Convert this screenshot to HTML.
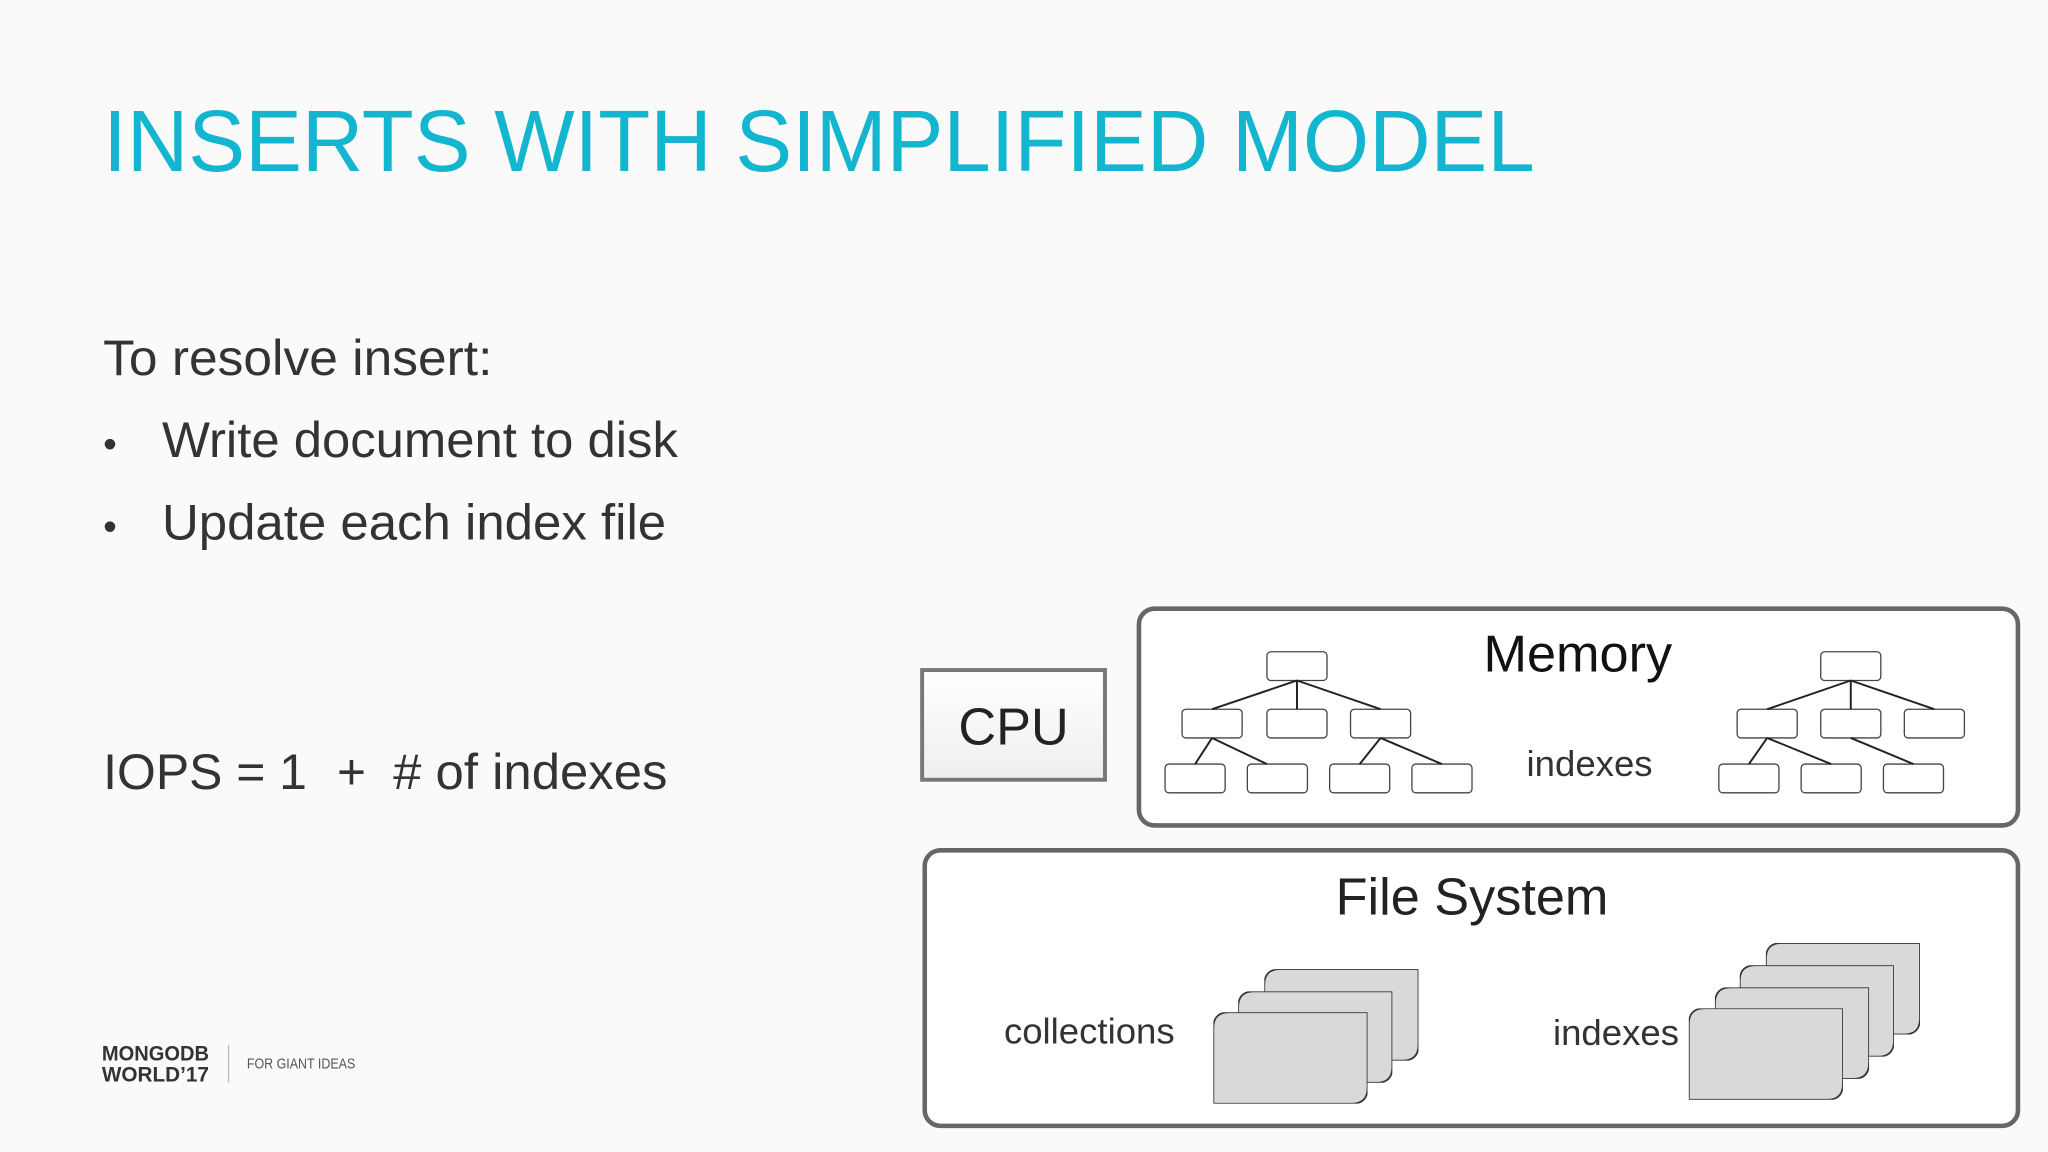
<!DOCTYPE html>
<html><head><meta charset="utf-8"><style>
html,body{margin:0;padding:0;background:#fafafa;}
svg{display:block;}
text{font-family:"Liberation Sans",Arial,sans-serif;}
</style></head><body>
<svg width="2048" height="1152" viewBox="0 0 1568 882" xmlns="http://www.w3.org/2000/svg">
<defs>
<linearGradient id="cpu" x1="0" y1="0" x2="0" y2="1"><stop offset="0" stop-color="#fff"/><stop offset="1" stop-color="#eee"/></linearGradient>
<symbol id="page" viewBox="0 0 118 70"><path d="M12,0 H118 V58 Q118,70 106,70 H0 V12 Q0,0 12,0 Z" fill="#d9d9dc" stroke="#333" stroke-width="1.3"/></symbol>
</defs>
<rect width="1568" height="882" fill="#fafafa"/>
<text x="79" y="131" font-size="67" fill="#13b5cf" textLength="1096" lengthAdjust="spacingAndGlyphs">INSERTS WITH SIMPLIFIED MODEL</text>
<g fill="#333" font-size="38">
<text x="79" y="287" textLength="298" lengthAdjust="spacingAndGlyphs">To resolve insert:</text>
<text x="79" y="350" font-size="30">•</text><text x="124" y="350" textLength="395" lengthAdjust="spacingAndGlyphs">Write document to disk</text>
<text x="79" y="413" font-size="30">•</text><text x="124" y="413" textLength="386" lengthAdjust="spacingAndGlyphs">Update each index file</text>
<text x="79" y="604" textLength="156" lengthAdjust="spacingAndGlyphs">IOPS = 1</text>
<text x="258" y="604">+</text>
<text x="301" y="604" textLength="210" lengthAdjust="spacingAndGlyphs"># of indexes</text>
</g>
<!-- footer -->
<text x="78" y="812" font-size="16" font-weight="bold" fill="#333" textLength="82" lengthAdjust="spacingAndGlyphs">MONGODB</text>
<text x="78" y="828" font-size="16" font-weight="bold" fill="#333" textLength="82" lengthAdjust="spacingAndGlyphs">WORLD’17</text>
<line x1="175" y1="800" x2="175" y2="829" stroke="#bbb" stroke-width="1"/>
<text x="189" y="818" font-size="11" fill="#555" textLength="83" lengthAdjust="spacingAndGlyphs">FOR GIANT IDEAS</text>
<!-- CPU -->
<rect x="706" y="513" width="140" height="84" fill="url(#cpu)" stroke="#777" stroke-width="3"/>
<text x="776" y="570" font-size="40" text-anchor="middle" fill="#222">CPU</text>
<!-- Memory -->
<rect x="872" y="466" width="673" height="166" rx="12" fill="#fff" stroke="#666" stroke-width="3.5"/>
<text x="1208" y="514" font-size="40" text-anchor="middle" fill="#111">Memory</text>
<text x="1217" y="594" font-size="28" text-anchor="middle" fill="#333">indexes</text>
<g fill="#fff" stroke="#444" stroke-width="1">
<rect x="970" y="499" width="46" height="22" rx="3"/>
<rect x="905" y="543" width="46" height="22" rx="3"/><rect x="970" y="543" width="46" height="22" rx="3"/><rect x="1034" y="543" width="46" height="22" rx="3"/>
<rect x="892" y="585" width="46" height="22" rx="3"/><rect x="955" y="585" width="46" height="22" rx="3"/><rect x="1018" y="585" width="46" height="22" rx="3"/><rect x="1081" y="585" width="46" height="22" rx="3"/>
<rect x="1394" y="499" width="46" height="22" rx="3"/>
<rect x="1330" y="543" width="46" height="22" rx="3"/><rect x="1394" y="543" width="46" height="22" rx="3"/><rect x="1458" y="543" width="46" height="22" rx="3"/>
<rect x="1316" y="585" width="46" height="22" rx="3"/><rect x="1379" y="585" width="46" height="22" rx="3"/><rect x="1442" y="585" width="46" height="22" rx="3"/>
</g>
<g stroke="#222" stroke-width="1.5">
<line x1="993" y1="521" x2="928" y2="543"/><line x1="993" y1="521" x2="993" y2="543"/><line x1="993" y1="521" x2="1057" y2="543"/>
<line x1="928" y1="565" x2="915" y2="585"/><line x1="928" y1="565" x2="970" y2="585"/>
<line x1="1057" y1="565" x2="1041" y2="585"/><line x1="1057" y1="565" x2="1104" y2="585"/>
<line x1="1417" y1="521" x2="1353" y2="543"/><line x1="1417" y1="521" x2="1417" y2="543"/><line x1="1417" y1="521" x2="1481" y2="543"/>
<line x1="1353" y1="565" x2="1339" y2="585"/><line x1="1353" y1="565" x2="1402" y2="585"/>
<line x1="1417" y1="565" x2="1465" y2="585"/>
</g>
<!-- File System -->
<rect x="708" y="651" width="837" height="211" rx="12" fill="#fff" stroke="#666" stroke-width="3.5"/>
<text x="1127" y="700" font-size="40" text-anchor="middle" fill="#222">File System</text>
<text x="834" y="799" font-size="28" text-anchor="middle" fill="#333">collections</text>
<use href="#page" x="968" y="742" width="118" height="70"/>
<use href="#page" x="948" y="759" width="118" height="70"/>
<use href="#page" x="929" y="775" width="118" height="70"/>
<use href="#page" x="1352" y="722" width="118" height="70"/>
<use href="#page" x="1332" y="739" width="118" height="70"/>
<use href="#page" x="1313" y="756" width="118" height="70"/>
<use href="#page" x="1293" y="772" width="118" height="70"/>
<text x="1189" y="800" font-size="28" fill="#333">indexes</text>
</svg>
</body></html>
